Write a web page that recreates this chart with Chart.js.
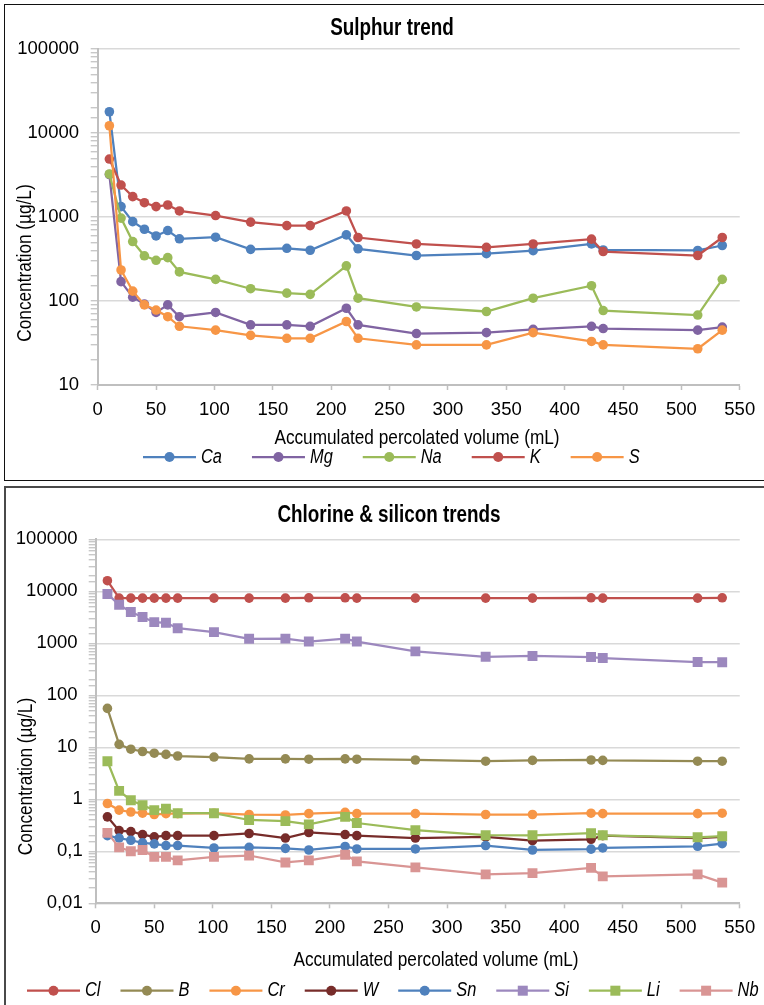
<!DOCTYPE html>
<html>
<head>
<meta charset="utf-8">
<title>Sulphur, chlorine &amp; silicon trends</title>
<script src="https://cdn.jsdelivr.net/npm/chart.js@4.4.1/dist/chart.umd.min.js"></script>
<style>
  html, body { margin: 0; padding: 0; background: #fff; overflow: hidden; }
  body { width: 764px; height: 1005px; position: relative; }
  canvas { position: absolute; left: 0; }
  #sulphurChart { top: 0; }
  #chlorineChart { top: 482px; }
  .frame { position: absolute; left: 4px; width: 820px; box-sizing: border-box; pointer-events: none; }
  #frame1 { top: 4px; height: 477px; border: 1.5px solid #111; }
  #frame2 { top: 486px; height: 600px; border: 2px solid #4a4a4a; }
</style>
</head>
<body>
<canvas id="sulphurChart" width="764" height="482"></canvas>
<canvas id="chlorineChart" width="764" height="523"></canvas>
<div class="frame" id="frame1"></div>
<div class="frame" id="frame2"></div>
<script>
const FONT = "'Liberation Sans', Arial, sans-serif";
const NARROW = 0.82; // no narrow face installed, so squeeze the regular one

// accumulated percolated volume (mL)
const volume = [10, 20, 30, 40, 50, 60, 70, 101, 131, 162, 182, 213, 223, 273, 333, 373, 423, 433, 514, 535];

// Sulphur trend, µg/L
const ca = [17900, 1330, 880, 715, 595, 690, 550, 575, 412, 424, 402, 612, 418, 348, 366, 397, 478, 405, 400, 458];
const mg = [3200, 170, 111, 92, 73, 90, 65, 73, 52, 52, 50, 82, 52, 41, 42, 46, 50, 47, 45, 49];
const na = [3250, 970, 510, 345, 305, 328, 222, 181, 140, 124, 120, 262, 108, 85, 75, 108, 152, 77, 68, 181];
const k = [4900, 2400, 1750, 1480, 1330, 1390, 1180, 1040, 870, 790, 790, 1180, 570, 478, 436, 478, 545, 388, 348, 570];
const s = [12200, 234, 131, 90, 78, 65, 50, 45, 39, 36, 36, 57, 36, 30, 30, 42, 33, 30, 27, 45];

// Chlorine & silicon trends, µg/L
const cl = [16000, 7400, 7400, 7400, 7400, 7400, 7400, 7400, 7400, 7400, 7500, 7500, 7400, 7400, 7400, 7400, 7500, 7400, 7400, 7500];
const b = [56, 11.4, 9.2, 8.3, 7.7, 7.3, 6.8, 6.5, 6.0, 6.0, 5.9, 6.0, 5.9, 5.7, 5.4, 5.6, 5.7, 5.6, 5.4, 5.4];
const cr = [0.83, 0.62, 0.57, 0.54, 0.51, 0.53, 0.53, 0.54, 0.51, 0.50, 0.53, 0.56, 0.53, 0.53, 0.51, 0.51, 0.54, 0.53, 0.53, 0.54];
const w = [0.46, 0.25, 0.24, 0.21, 0.19, 0.20, 0.20, 0.20, 0.22, 0.18, 0.23, 0.21, 0.20, 0.18, 0.19, 0.16, 0.17, 0.20, 0.18, 0.19];
const sn = [0.20, 0.18, 0.163, 0.145, 0.139, 0.129, 0.129, 0.116, 0.119, 0.114, 0.106, 0.124, 0.111, 0.111, 0.129, 0.106, 0.11, 0.116, 0.125, 0.14];
const si = [8900, 5500, 4000, 3200, 2550, 2480, 1950, 1640, 1220, 1230, 1080, 1230, 1080, 700, 550, 570, 545, 520, 436, 433];
const li = [5.4, 1.45, 0.96, 0.77, 0.62, 0.66, 0.54, 0.54, 0.40, 0.38, 0.33, 0.46, 0.35, 0.255, 0.204, 0.203, 0.223, 0.203, 0.186, 0.195];
const nb = [0.226, 0.119, 0.1, 0.106, 0.078, 0.078, 0.067, 0.078, 0.083, 0.061, 0.067, 0.086, 0.064, 0.049, 0.036, 0.038, 0.048, 0.033, 0.036, 0.025];

Chart.defaults.font.family = FONT;

function isDecade(v) {
  const e = Math.log10(v);
  return Math.abs(e - Math.round(e)) < 1e-6;
}

function decadeLabel(v, trailing) {
  if (!isDecade(v)) return '';
  const e = Math.round(Math.log10(v));
  if (e < 0) return v.toFixed(-e).replace('.', ',');
  return String(Math.round(v)) + (trailing && e >= 1 ? ' ' : '');
}

function series(label, values, color, style) {
  return {
    label: label,
    data: values.map((v, i) => ({ x: volume[i], y: v })),
    borderColor: color,
    backgroundColor: color,
    borderWidth: 2.25,
    pointStyle: style || 'circle',
    pointRadius: style === 'rect' ? 7 : 4.8,
    pointBorderWidth: 0,
    pointHoverRadius: 0,
    tension: 0
  };
}

// excel draws the last series on top
function stackLastOnTop(list) {
  list.forEach((ds, i) => { ds.order = list.length - i; });
  return list;
}

function narrowText(ctx, text, x, y, align, rotate) {
  ctx.save();
  ctx.translate(x, y);
  if (rotate) ctx.rotate(-Math.PI / 2);
  ctx.scale(NARROW, 1);
  ctx.textAlign = align;
  ctx.fillText(text, 0, 0);
  ctx.restore();
}

// titles, axis titles and the line+marker legend
const chartText = {
  id: 'chartText',
  afterDraw(chart, args, o) {
    const ctx = chart.ctx;
    ctx.save();
    ctx.fillStyle = '#000';
    ctx.textBaseline = 'middle';
    ctx.font = 'bold 23px ' + FONT;
    narrowText(ctx, o.title, o.titleX, o.titleY, 'center');
    ctx.font = '21px ' + FONT;
    narrowText(ctx, o.xTitle, o.xTitleX, o.xTitleY, 'center');
    narrowText(ctx, o.yTitle, o.yTitleX, o.yTitleY, 'center', true);

    let x = o.legendX;
    const y = o.legendY;
    ctx.font = 'italic 20px ' + FONT;
    chart.data.datasets.forEach(ds => {
      ctx.strokeStyle = ds.borderColor;
      ctx.lineWidth = 2.25;
      ctx.beginPath();
      ctx.moveTo(x, y);
      ctx.lineTo(x + 53, y);
      ctx.stroke();
      ctx.fillStyle = ds.backgroundColor;
      if (ds.pointStyle === 'rect') {
        ctx.fillRect(x + 21.5, y - 5, 10, 10);
      } else {
        ctx.beginPath();
        ctx.arc(x + 26.5, y, 5, 0, 2 * Math.PI);
        ctx.fill();
      }
      ctx.fillStyle = '#000';
      narrowText(ctx, ds.label, x + 58, y, 'left');
      x += 58 + ctx.measureText(ds.label).width * NARROW + o.legendGap;
    });
    ctx.restore();
  }
};

function buildOptions(yMin, yWidth, yPad, trailing, padding, text) {
  return {
    responsive: false,
    animation: false,
    events: [],
    layout: { padding: padding },
    plugins: {
      legend: { display: false },
      title: { display: false },
      tooltip: { enabled: false },
      chartText: text
    },
    scales: {
      x: {
        type: 'linear',
        min: 0,
        max: 550,
        afterFit: sc => { sc.height = 40; },
        border: { color: '#bfbfbf', width: 2 },
        grid: { drawOnChartArea: false, tickLength: 5, tickColor: '#bfbfbf', tickWidth: 1.5 },
        ticks: {
          stepSize: 50, padding: 8.8, maxRotation: 0, autoSkip: false,
          color: '#000', font: { size: 18.5 }
        }
      },
      y: {
        type: 'logarithmic',
        min: yMin,
        max: 100000,
        afterFit: sc => { sc.width = yWidth; },
        border: { color: '#bfbfbf', width: 2 },
        grid: {
          color: c => isDecade(c.tick.value) ? '#d9d9d9' : 'rgba(0,0,0,0)',
          lineWidth: 1.5,
          tickLength: 7,
          tickColor: '#bfbfbf',
          tickWidth: 1.2
        },
        ticks: {
          autoSkip: false,
          padding: yPad,
          color: '#000',
          font: { size: 18.5 },
          callback: v => decadeLabel(v, trailing)
        }
      }
    }
  };
}

// Sulphur trend
new Chart(document.getElementById('sulphurChart').getContext('2d'), {
  type: 'line',
  data: {
    datasets: stackLastOnTop([
      series('Ca', ca, '#4f81bd'),
      series('Mg', mg, '#8064a2'),
      series('Na', na, '#9bbb59'),
      series('K', k, '#c0504d'),
      series('S', s, '#f79646')
    ])
  },
  options: buildOptions(10, 93.7, 11.7, false,
    { left: 4, top: 49, right: 23, bottom: 57 },
    {
      title: 'Sulphur trend', titleX: 392, titleY: 29,
      xTitle: 'Accumulated percolated volume (mL)', xTitleX: 417, xTitleY: 438,
      yTitle: 'Concentration (µg/L)', yTitleX: 25, yTitleY: 263,
      legendX: 143, legendY: 457, legendGap: 30
    }),
  plugins: [chartText]
});

// Chlorine & silicon trends
new Chart(document.getElementById('chlorineChart').getContext('2d'), {
  type: 'line',
  data: {
    datasets: stackLastOnTop([
      series('Cl', cl, '#c0504d'),
      series('B', b, '#948a54'),
      series('Cr', cr, '#f79646'),
      series('W', w, '#772c2a'),
      series('Sn', sn, '#4f81bd'),
      series('Si', si, '#9c88be', 'rect'),
      series('Li', li, '#9bbb59', 'rect'),
      series('Nb', nb, '#d99594', 'rect')
    ])
  },
  options: buildOptions(0.01, 91.7, 6, true,
    { left: 4, top: 57.3, right: 23, bottom: 61.7 },
    {
      title: 'Chlorine & silicon trends', titleX: 389, titleY: 33.7,
      xTitle: 'Accumulated percolated volume (mL)', xTitleX: 436, xTitleY: 478,
      yTitle: 'Concentration (µg/L)', yTitleX: 26, yTitleY: 294.5,
      legendX: 27, legendY: 508.7, legendGap: 20
    }),
  plugins: [chartText]
});
</script>
</body>
</html>
